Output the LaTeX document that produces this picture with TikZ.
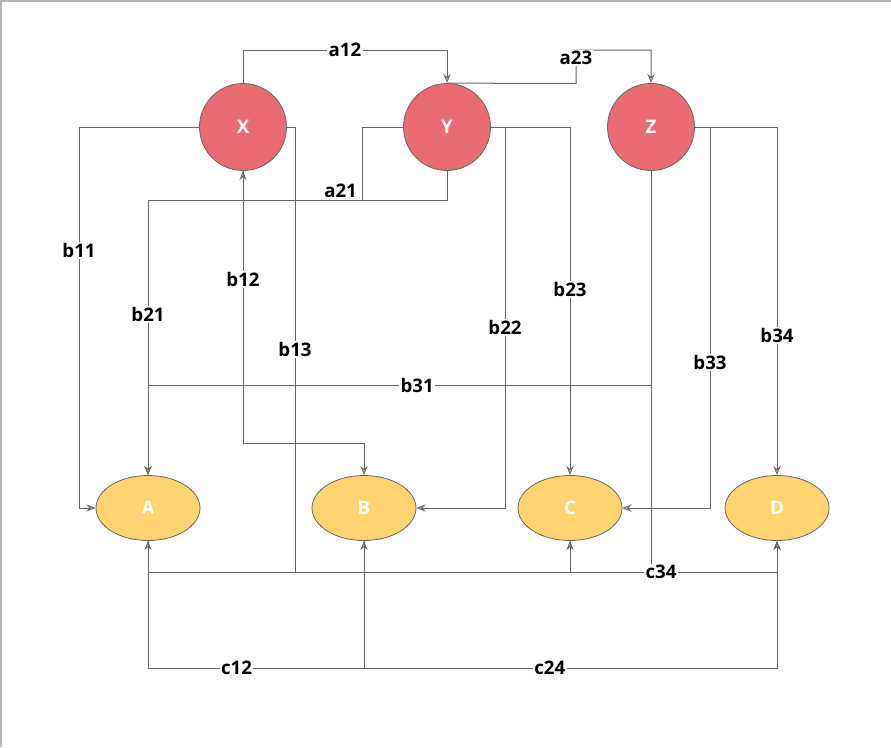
\documentclass[tikz,border=0pt]{standalone}
\usepackage{fontspec}
\setmainfont{Open Sans}
\usepackage{xcolor}
\usepackage{tikz}
\usetikzlibrary{shapes.geometric, arrows.meta}

\definecolor{statered}{HTML}{EA6B73}
\definecolor{obsyellow}{HTML}{FFD470}
\definecolor{edgegray}{HTML}{666666}
\definecolor{framegray}{HTML}{B4B4B4}

\begin{document}
\begin{tikzpicture}[
            x=0.75pt, y=-0.75pt,
            state/.style={circle, draw=edgegray, line width=0.6pt, fill=statered, minimum size=65.25pt, inner sep=0pt, text=white, font=\fontsize{14}{16}\selectfont\bfseries},
            obs/.style={ellipse, draw=edgegray, line width=0.6pt, fill=obsyellow, minimum width=78pt, minimum height=48.75pt, inner sep=0pt, text=white, font=\fontsize{14}{16}\selectfont\bfseries},
            arrow/.style={draw=edgegray, line width=0.75pt, -{Stealth[open, length=7pt, width=5.5pt, inset=2.5pt]}},
            lbl/.style={fill=white, inner sep=1pt, text=black, font=\fontsize{14}{16}\selectfont\bfseries}
        ]
            \useasboundingbox (0,0) rectangle (891,747);
            \draw[framegray, line width=1.5pt] (1,747) -- (1,1) -- (891,1);

            % hidden states
            \node[state] (X) at (243,127) {X};
            \node[state] (Y) at (447,127) {Y};
            \node[state] (Z) at (651,127) {Z};

            % observations
            \node[obs] (A) at (148,508) {A};
            \node[obs] (B) at (364,508) {B};
            \node[obs] (C) at (570,508) {C};
            \node[obs] (D) at (777,508) {D};

            % transitions
            \draw[arrow] (X.north) -- (243,50) -- node[lbl] {a12} (447,50) -- (Y.north);
            \draw[arrow] (Y.north) -- (576,83.5) -- node[lbl, pos=0.76] {a23} (576,50) -- (651,50) -- (Z.north);
            \draw[arrow] (Y.west) -- (362,127) -- (362,200) -- node[lbl, above, pos=0.18] {a21} (243,200) -- (X.south);

            % emissions
            \draw[arrow] (X.west) -- (79,127) -- node[lbl, pos=0.325] {b11} (79,508) -- (A.west);
            \draw[arrow] (X.south) -- node[lbl, pos=0.4] {b12} (243,443) -- (364,443) -- (B.north);
            \draw[arrow] (X.east) -- (295,127) -- node[lbl] {b13} (295,572) -- (570,572) -- (C.south);
            \draw[arrow] (Y.south) -- (447,200) -- (148,200) -- node[lbl, pos=0.417] {b21} (A.north);
            \draw[arrow] (Y.east) -- (505,127) -- node[lbl, pos=0.525] {b22} (505,508) -- (B.east);
            \draw[arrow] (Y.east) -- (570,127) -- node[lbl, pos=0.468] {b23} (C.north);
            \draw[arrow] (Z.south) -- (651,385) -- node[lbl, pos=0.465] {b31} (148,385) -- (A.north);
            \draw[arrow] (Z.east) -- (710,127) -- node[lbl, pos=0.617] {b33} (710,508) -- (C.east);
            \draw[arrow] (Z.east) -- (777,127) -- node[lbl, pos=0.6] {b34} (D.north);
            \draw[arrow] (Z.south) -- (651,572) -- (148,572) -- (A.south);

            % links between observations
            \draw[arrow] (C.south) -- (570,572) -- node[lbl, pos=0.44] {c34} (777,572) -- (D.south);
            \draw[arrow] (A.south) -- (148,668) -- node[lbl, pos=0.41] {c12} (364,668) -- (B.south);
            \draw[arrow] (B.south) -- (364,668) -- node[lbl, pos=0.45] {c24} (777,668) -- (D.south);
        \end{tikzpicture}
\end{document}
